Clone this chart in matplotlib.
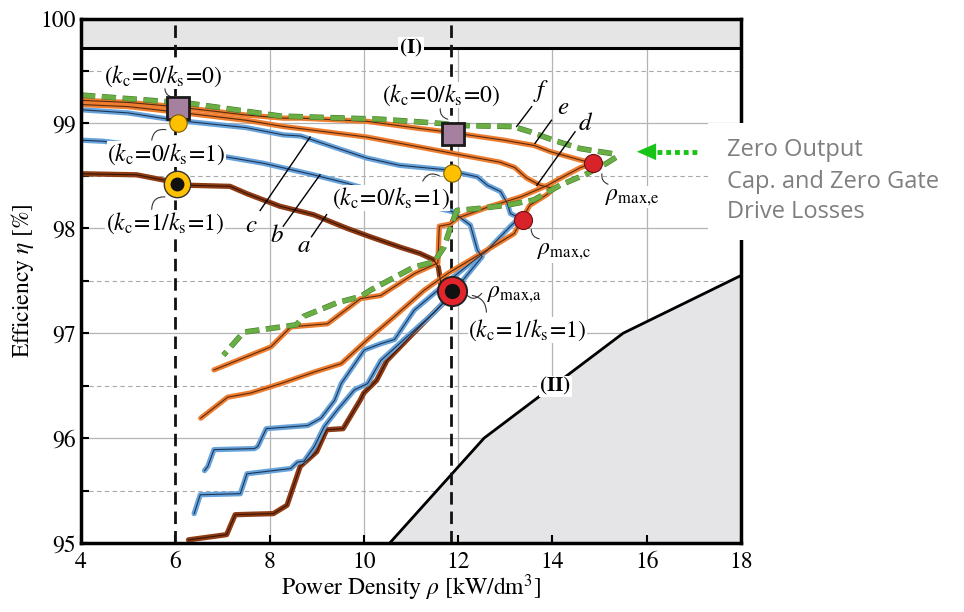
import matplotlib
matplotlib.use("Agg")
import matplotlib.pyplot as plt
import matplotlib.patheffects as pe
from matplotlib.patches import Rectangle, Polygon

plt.rcParams['font.family'] = ['STIXGeneral', 'DejaVu Serif']
plt.rcParams['mathtext.fontset'] = 'stix'

# ---- efficiency / power-density Pareto fronts (rho in kW/dm^3, eta in %) ----
a_rho = [4.0, 5.18, 6.32, 7.16, 7.52, 8.22, 8.93, 9.64, 10.13, 10.77, 11.19, 11.48, 11.58, 11.65, 11.8,
         11.69, 11.05, 10.49, 10.27, 10.0, 9.92, 9.56, 9.21, 9.0, 8.65, 8.37, 8.08, 7.27, 7.09, 6.28]
a_eta = [98.52, 98.51, 98.41, 98.4, 98.33, 98.21, 98.13, 98.0, 97.92, 97.82, 97.76, 97.7, 97.63, 97.42, 97.38,
         97.29, 97.0, 96.74, 96.55, 96.43, 96.36, 96.09, 96.08, 95.87, 95.73, 95.36, 95.28, 95.27, 95.08, 95.03]

b_rho = [4.0, 4.47, 7.09, 7.87, 8.93, 9.64, 10.6, 11.5, 11.87, 12.26, 12.41, 12.51,
         12.0, 11.5, 11.0, 10.36, 10.08, 9.8, 9.44, 9.16, 8.95, 8.73, 8.59, 8.45, 7.52, 7.38, 6.53, 6.4]
b_eta = [98.84, 98.83, 98.68, 98.62, 98.51, 98.43, 98.3, 98.2, 98.16, 98.03, 97.79, 97.73,
         97.45, 97.2, 97.0, 96.74, 96.52, 96.46, 96.27, 96.11, 95.92, 95.78, 95.77, 95.71, 95.66, 95.47, 95.46, 95.28]

c_rho = [4.0, 5.0, 6.0, 7.5, 8.3, 8.66, 10.06, 10.76, 11.7, 11.91, 12.41, 12.62, 12.9, 13.04, 13.11, 13.3,
         13.11, 12.62, 12.27, 11.91, 11.07, 10.65, 10.36, 10.01, 9.52, 9.38, 9.09, 8.81, 7.93, 7.75, 7.68,
         6.82, 6.69, 6.62]
c_eta = [99.13, 99.1, 99.03, 98.96, 98.89, 98.88, 98.67, 98.6, 98.56, 98.54, 98.49, 98.41, 98.35, 98.24, 98.14, 98.1,
         98.02, 97.79, 97.67, 97.54, 97.22, 96.94, 96.9, 96.84, 96.52, 96.36, 96.19, 96.12, 96.09, 95.92, 95.9,
         95.89, 95.73, 95.69]

d_rho = [4.0, 5.0, 6.0, 7.5, 8.3, 8.66, 10.06, 11.12, 12.05, 12.89, 13.2, 13.45, 13.74, 14.03,
         13.88, 13.52, 13.37, 13.19, 12.49, 11.78, 11.28, 10.65, 10.08, 9.52, 8.95, 8.24, 7.6, 7.11, 6.54]
d_eta = [99.18, 99.16, 99.11, 99.03, 98.97, 98.95, 98.87, 98.78, 98.7, 98.63, 98.58, 98.48, 98.41, 98.38,
         98.32, 98.22, 98.1, 97.95, 97.76, 97.57, 97.41, 97.16, 96.94, 96.71, 96.63, 96.52, 96.43, 96.39, 96.19]

e_rho = [4.0, 5.0, 6.0, 7.5, 8.3, 8.66, 10.06, 11.21, 11.91, 12.97, 13.61, 13.96, 14.6, 14.87,
         14.6, 14.18, 13.9, 13.33, 12.62, 12.0, 11.83, 11.6, 11.57, 11.08, 10.36, 9.93, 9.23, 8.45, 8.03, 6.82]
e_eta = [99.22, 99.2, 99.16, 99.08, 99.05, 99.05, 99.02, 98.95, 98.91, 98.84, 98.79, 98.73, 98.65, 98.62,
         98.58, 98.48, 98.41, 98.3, 98.2, 98.1, 98.04, 98.02, 97.67, 97.57, 97.36, 97.33, 97.09, 97.06, 96.87, 96.65]

f_rho = [4.0, 5.76, 6.32, 8.23, 10.35, 11.62, 12.05, 13.17, 13.53, 14.02, 14.59, 15.29, 15.36,
         15.15, 14.73, 14.16, 13.6, 13.03, 12.46, 11.97, 11.84, 11.7, 11.49, 11.06, 10.14, 9.93, 9.43,
         8.72, 8.57, 7.45, 7.02]
f_eta = [99.27, 99.21, 99.19, 99.07, 99.04, 99.0, 98.98, 98.97, 98.92, 98.84, 98.76, 98.71, 98.68,
         98.62, 98.52, 98.41, 98.27, 98.22, 98.19, 98.17, 98.01, 97.82, 97.68, 97.63, 97.41, 97.35, 97.29,
         97.16, 97.08, 97.01, 96.79]

# boundary (II)
lim2_rho = [10.55, 12.55, 15.5, 18.0]
lim2_eta = [95.0, 96.0, 97.0, 97.55]
lim1_eta = 99.72

# reference designs
rho_sel = [6.0, 11.85]
sq_rho, sq_eta = [6.05, 11.9], [99.15, 98.9]              # k_c=0 / k_s=0
yc_rho, yc_eta = [6.05, 11.88], [99.0, 98.53]             # k_c=0 / k_s=1
ring_rho, ring_eta = 6.04, 98.42                          # k_c=1 / k_s=1
rmax_rho, rmax_eta = [13.37, 14.87], [98.08, 98.62]       # rho_max,c / rho_max,e
rmaxa_rho, rmaxa_eta = 11.88, 97.4                        # rho_max,a

x_ticks = [4, 6, 8, 10, 12, 14, 16, 18]
y_ticks = [95, 96, 97, 98, 99, 100]

ORANGE, ORANGE_C = '#EE7D2F', '#5a2a10'
BLUE, BLUE_C = '#67A3DA', '#1d3557'
BROWN, BROWN_C = '#8E3B14', '#3a1405'
GREEN = '#6AAE45'

fig = plt.figure(figsize=(9.64, 6.12), dpi=100)
ax = fig.add_axes([81/964, 1-543/612, (741-81)/964, (543-18.5)/612])
ax.set_xlim(4, 18)
ax.set_ylim(95, 100)

# grid
for y in [96, 97, 98, 99]:
    ax.axhline(y, color='#b4b4b4', lw=0.9, zorder=0.5)
for y in [95.5, 96.5, 97.5, 98.5, 99.5]:
    ax.axhline(y, color='#a8a8a8', lw=0.8, ls=(0, (4, 3)), zorder=0.5)
for x in [8, 10, 12, 14, 16]:
    ax.axvline(x, color='#b4b4b4', lw=0.9, zorder=0.5)

# limit (I)
ax.fill_between([4, 18], lim1_eta, 100, color='#e5e5e5', zorder=0.6, lw=0)
ax.axhline(lim1_eta, color='black', lw=2.2, zorder=1)
ax.text(11.0, lim1_eta, '(I)', fontsize=15, fontweight='bold', ha='center', va='center', zorder=6,
        bbox=dict(facecolor='white', edgecolor='none', pad=1.0))

# limit (II)
ax.add_patch(Polygon(list(zip(lim2_rho, lim2_eta)) + [(18, 95)], closed=True,
                     facecolor='#e5e5e7', edgecolor='none', zorder=0.6))
ax.plot(lim2_rho, lim2_eta, color='black', lw=2.0, zorder=1, clip_on=False)
ax.text(14.06, 96.49, '(II)', fontsize=15, fontweight='bold', ha='center', va='center', zorder=6,
        bbox=dict(facecolor='white', edgecolor='none', pad=1.0))

# selected power densities
for x in rho_sel:
    ax.axvline(x, color='#111111', lw=2.0, ls=(0, (4.5, 2.5)), zorder=2)


def front(xs, ys, col, core):
    ax.plot(xs, ys, color=col, lw=3.8, solid_joinstyle='round', solid_capstyle='round', zorder=3)
    ax.plot(xs, ys, color=core, lw=0.8, zorder=3.1)


front(a_rho, a_eta, BROWN, BROWN_C)
front(b_rho, b_eta, BLUE, BLUE_C)
front(c_rho, c_eta, BLUE, BLUE_C)
front(d_rho, d_eta, ORANGE, ORANGE_C)
front(e_rho, e_eta, ORANGE, ORANGE_C)
ax.plot(f_rho, f_eta, color=GREEN, lw=3.2, ls=(0, (3.2, 1.5)), zorder=3.2,
        path_effects=[pe.Stroke(linewidth=4.0, foreground='#3f7a27'), pe.Normal()])

# curve letters with leader lines
letters = [('a', 8.73, 97.83, (8.89, 97.92), (9.21, 98.13)),
           ('b', 8.16, 97.93, (8.29, 98.02), (9.07, 98.51)),
           ('c', 7.6, 98.02, (7.8, 98.17), (8.86, 98.87)),
           ('f', 13.75, 99.31, (13.56, 99.16), (13.24, 98.97)),
           ('e', 14.23, 99.15, (13.98, 99.03), (13.63, 98.81)),
           ('d', 14.68, 98.99, (14.48, 98.92), (13.67, 98.41))]
for s, tx, ty, p0, p1 in letters:
    ax.text(tx, ty, s, fontsize=18, style='italic', ha='center', va='center', zorder=6)
    ax.plot([p0[0], p1[0]], [p0[1], p1[1]], color='black', lw=1.0, zorder=6)

# design labels
lab_00 = r'$(k_\mathrm{c}\!=\!0/k_\mathrm{s}\!=\!0)$'
lab_01 = r'$(k_\mathrm{c}\!=\!0/k_\mathrm{s}\!=\!1)$'
lab_11 = r'$(k_\mathrm{c}\!=\!1/k_\mathrm{s}\!=\!1)$'
labels = [(lab_00, 5.75, 99.45, (5.78, 99.33), (5.95, 99.25), 0.4),
          (lab_01, 5.81, 98.71, (5.5, 98.84), (5.8, 98.94), -0.5),
          (lab_11, 5.78, 98.05, (5.5, 98.18), (5.78, 98.3), -0.5),
          (lab_00, 11.64, 99.27, (11.62, 99.14), (11.78, 99.04), 0.4),
          (lab_01, 10.57, 98.29, (11.25, 98.45), (11.6, 98.5), -0.5),
          (lab_11, 13.47, 97.03, (12.6, 97.2), (12.3, 97.36), 0.4),
          (r'$\rho_{\mathrm{max},\!\mathrm{e}}$', 15.69, 98.3, (15.05, 98.52), (15.18, 98.42), 0.4),
          (r'$\rho_{\mathrm{max},\!\mathrm{c}}$', 14.25, 97.78, (13.55, 97.99), (13.72, 97.9), 0.4),
          (r'$\rho_{\mathrm{max},\!\mathrm{a}}$', 13.2, 97.37, (12.15, 97.38), (12.5, 97.38), 0.6)]
for s, tx, ty, p0, p1, rad in labels:
    ax.text(tx, ty, s, fontsize=17, ha='center', va='center', zorder=6,
            bbox=dict(facecolor='white', edgecolor='none', pad=0.3))
    ax.annotate('', xy=p1, xytext=p0, zorder=6,
                arrowprops=dict(arrowstyle='-', lw=0.8, color='#333333',
                                connectionstyle=f'arc3,rad={rad}', shrinkA=0, shrinkB=0))

# markers
ax.plot(sq_rho, sq_eta, 's', ms=16, mfc='#A5809F', mec='#1a1a1a', mew=2.0, zorder=8, ls='none')
ax.plot(yc_rho, yc_eta, 'o', ms=12.5, mfc='#FFC000', mec='#7a5c00', mew=0.8, zorder=8, ls='none')
ax.plot(ring_rho, ring_eta, 'o', ms=19, mfc='#FFC000', mec='#333333', mew=1.0, zorder=8)
ax.plot(ring_rho, ring_eta, 'o', ms=9, mfc='#111111', mec='#111111', zorder=8.1)
ax.plot(rmax_rho, rmax_eta, 'o', ms=13, mfc='#D9232A', mec='#6d1010', mew=0.8, zorder=8, ls='none')
ax.plot(rmaxa_rho, rmaxa_eta, 'o', ms=21, mfc='#E3242B', mec='#222222', mew=1.4, zorder=8)
ax.plot(rmaxa_rho, rmaxa_eta, 'o', ms=10, mfc='#111111', mec='#111111', zorder=8.1)

# axes styling
for sp in ax.spines.values():
    sp.set_linewidth(2.5)
    sp.set_zorder(7)
ax.set_xticks(x_ticks)
ax.set_yticks(y_ticks)
ax.set_yticks([95.5, 96.5, 97.5, 98.5, 99.5], minor=True)
ax.tick_params(axis='both', which='both', direction='in', length=6, width=1.5, labelsize=17,
               top=False, right=False)
ax.tick_params(axis='x', pad=6)
ax.set_xlabel(r'Power Density $\rho$ [kW/dm$^3$]', fontsize=17, labelpad=0)
ax.set_ylabel(r'Efficiency $\eta$ [%]', fontsize=17, labelpad=3)

# side note
fig.patches.append(Rectangle((708/964, 1-240/612), (964-708)/964, (240-123)/612,
                             transform=fig.transFigure, facecolor='white', edgecolor='none', zorder=5))
for txt, yp in [('Zero Output', 150), ('Cap. and Zero Gate', 182), ('Drive Losses', 212)]:
    fig.text(727/964, 1-yp/612, txt, fontsize=17, family='Open Sans', color='#7f7f7f',
             ha='left', va='center', zorder=6)

# pointer arrow
ax.plot([16.22, 17.13], [98.73, 98.73], color='#19c419', lw=3.5, ls=(0, (1, 0.8)),
        solid_capstyle='butt', zorder=6, clip_on=False)
ax.add_patch(Polygon([(15.79, 98.73), (16.2, 98.81), (16.2, 98.65)], closed=True,
                     facecolor='#19c419', edgecolor='none', zorder=6))

fig.savefig('out.png', dpi=100)
